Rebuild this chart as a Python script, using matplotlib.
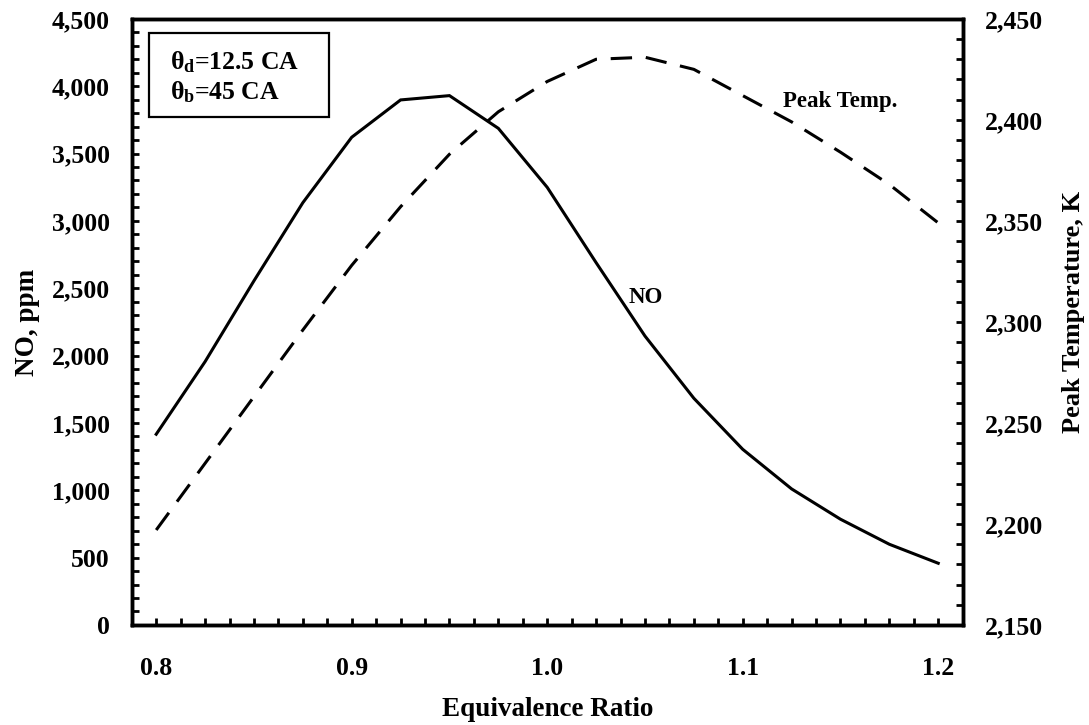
import matplotlib
matplotlib.use('Agg')
import matplotlib.pyplot as plt
from matplotlib.ticker import MultipleLocator, FuncFormatter
from matplotlib.patches import Rectangle

fs=18.5
plt.rcParams['font.family'] = ['Liberation Serif', 'DejaVu Serif']
plt.rcParams['font.weight'] = 'bold'
plt.rcParams['axes.labelweight'] = 'bold'
plt.rcParams['font.size'] = fs
plt.rcParams['mathtext.fontset'] = 'custom'
plt.rcParams['mathtext.rm'] = 'Liberation Serif:bold'
plt.rcParams['mathtext.it'] = 'Liberation Serif:bold'
plt.rcParams['mathtext.bf'] = 'Liberation Serif:bold'

# equivalence ratio
phi = [0.8, 0.825, 0.85, 0.875, 0.9, 0.925, 0.95, 0.975, 1.0,
       1.025, 1.05, 1.075, 1.1, 1.125, 1.15, 1.175, 1.2]
# NO, ppm
no_ppm = [1416, 1955, 2555, 3135, 3621, 3898, 3930, 3687, 3249,
          2690, 2145, 1683, 1304, 1010, 785, 599, 458]
# peak temperature, K
t_peak = [2197, 2230, 2263, 2296, 2328, 2357, 2383, 2404, 2419,
          2430, 2431, 2425, 2412, 2399, 2384, 2368, 2349]

fig = plt.figure(figsize=(10.89, 7.25), dpi=100)
ax = fig.add_axes([0.121, 0.138, 0.763, 0.836])
ax2 = ax.twinx()

ax.plot(phi, no_ppm, color='k', lw=2.2, solid_joinstyle='miter')
ax2.plot(phi, t_peak, color='k', lw=2.2, linestyle=(0, (7, 4.5)))

ax.set_xlim(0.7875, 1.2125)
ax.set_ylim(0, 4500)
ax2.set_ylim(2150, 2450)

comma = FuncFormatter(lambda v, p: '{:,.0f}'.format(v))
ax.xaxis.set_major_locator(MultipleLocator(0.1))
ax.xaxis.set_minor_locator(MultipleLocator(0.0125))
ax.xaxis.set_major_formatter(FuncFormatter(lambda v, p: '%.1f' % v))
ax.yaxis.set_major_locator(MultipleLocator(500))
ax.yaxis.set_minor_locator(MultipleLocator(100))
ax.yaxis.set_major_formatter(comma)
ax2.yaxis.set_major_locator(MultipleLocator(50))
ax2.yaxis.set_minor_locator(MultipleLocator(10))
ax2.yaxis.set_major_formatter(comma)

for a in (ax, ax2):
    for s in a.spines.values():
        s.set_linewidth(2.5)
ax.tick_params(axis='x', which='both', direction='in', length=5, width=2, top=False, pad=23)
ax.tick_params(axis='y', which='both', direction='in', length=5, width=2, right=False, pad=16)
ax2.tick_params(axis='y', which='both', direction='in', length=5, width=2, pad=16)

ax.set_xlabel('Equivalence Ratio', fontsize=19.5, labelpad=12)
ax.set_ylabel('NO, ppm', fontsize=19.5, labelpad=8)
ax2.set_ylabel('Peak Temperature, K', fontsize=19)
ax2.yaxis.set_label_coords(1.119, 0.516)

ax.text(1.0505, 2428, 'NO', fontsize=16.5, ha='center', va='center')
ax2.text(1.1496, 2409, 'Peak Temp.', fontsize=16.5, ha='center', va='center')

ax.add_patch(Rectangle((0.0212, 0.8388), 0.2165, 0.1386, transform=ax.transAxes,
                       fill=False, edgecolor='k', lw=1.6, zorder=5))
ax.text(0.046, 0.929, r'$\theta_d$=12.5 CA', transform=ax.transAxes, va='center', ha='left', fontsize=fs)
ax.text(0.046, 0.8795, r'$\theta_b$=45 CA', transform=ax.transAxes, va='center', ha='left', fontsize=fs)

plt.savefig('out.png', dpi=100)
